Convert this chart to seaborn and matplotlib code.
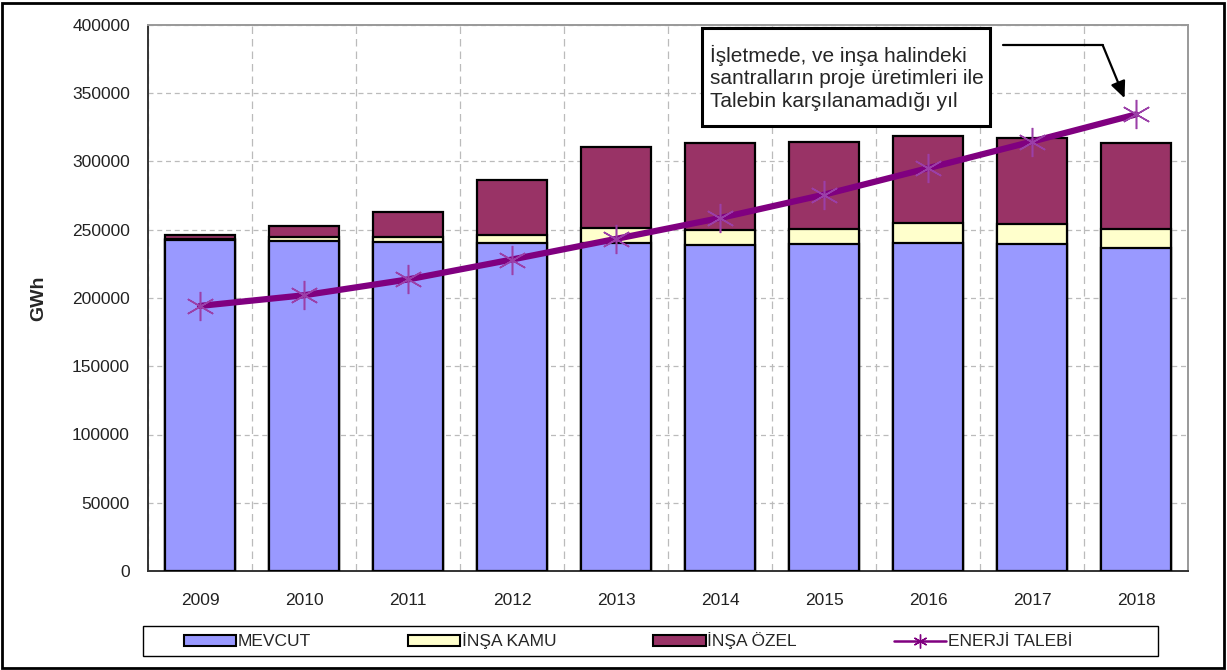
import numpy as np
import matplotlib
matplotlib.use("Agg")
import matplotlib.pyplot as plt
import matplotlib.patches as mpatches
from matplotlib.lines import Line2D
import seaborn as sns
import pandas as pd

YILLAR  = ["2009", "2010", "2011", "2012", "2013", "2014", "2015", "2016", "2017", "2018"]
MEVCUT  = [242500, 241600, 240900, 240400, 240500, 238700, 239600, 240400, 239900, 236700]
KAMU    = [800, 2900, 3600, 6100, 10800, 11400, 11000, 14600, 14400, 14200]
OZEL    = [2900, 8100, 18300, 39600, 59100, 63300, 63500, 64000, 63200, 63000]
TALEP   = [194200, 202000, 213600, 228200, 243300, 258600, 275700, 295100, 314600, 334500]
ETIKETLER = ["MEVCUT", "İNŞA KAMU", "İNŞA ÖZEL", "ENERJİ TALEBİ"]
NOT_METNI = "İşletmede, ve inşa halindeki\nsantralların proje üretimleri ile\nTalebin karşılanamadığı yıl"

C_MEVCUT, C_KAMU, C_OZEL, C_TALEP = "#9999FF", "#FFFFCC", "#993366", "#800080"

df = pd.DataFrame({"yil": YILLAR, "mevcut": MEVCUT, "kamu": KAMU, "ozel": OZEL, "talep": TALEP})
df["ust_kamu"] = df["mevcut"] + df["kamu"]
df["ust_ozel"] = df["ust_kamu"] + df["ozel"]

sns.set_style("white")
plt.rcParams["font.family"] = ["Liberation Sans", "DejaVu Sans"]

fig = plt.figure(figsize=(12.27, 6.70), dpi=100)
ax = fig.add_axes([148 / 1227, 99 / 670, 1040 / 1227, 546 / 670])

# yigilmis cubuklar: en buyukten kucuge ust uste
bar_kw = dict(width=0.68, edgecolor="black", linewidth=1.6, ax=ax, zorder=3)
sns.barplot(data=df, x="yil", y="ust_ozel", color=C_OZEL, saturation=1, **bar_kw)
sns.barplot(data=df, x="yil", y="ust_kamu", color=C_KAMU, saturation=1, **bar_kw)
sns.barplot(data=df, x="yil", y="mevcut", color=C_MEVCUT, saturation=1, **bar_kw)

# talep cizgisi
sns.pointplot(data=df, x="yil", y="talep", color=C_TALEP, marker="", linewidth=4.5,
              ax=ax, zorder=5)
ax.plot(np.arange(len(YILLAR)), df["talep"], linestyle="none", marker=(6, 2, 0),
        markersize=21, markeredgewidth=1.1, color="#9B3FA8", zorder=6)

ax.set_ylim(0, 400000)
ax.set_xlim(-0.5, len(YILLAR) - 0.5)
ax.set_yticks(np.arange(0, 400001, 50000))
ax.set_xticks(np.arange(len(YILLAR)))
ax.set_xticklabels(YILLAR)
ax.set_xticks(np.arange(len(YILLAR) + 1) - 0.5, minor=True)
ax.tick_params(axis="x", which="major", length=0, pad=16, labelsize=12.5, colors="#222222")
ax.tick_params(axis="x", which="minor", length=6, direction="out", color="#333333", width=1.2)
ax.tick_params(axis="y", length=6, direction="out", labelsize=12.5, colors="#222222", width=1.2, pad=7)
ax.set_xlabel("")
ax.set_ylabel("GWh", fontsize=14, fontweight="bold", labelpad=18)
ax.grid(True, axis="y", linestyle=(0, (4, 3)), color="#BBBBBB", linewidth=0.9, zorder=0)
ax.grid(True, axis="x", which="minor", linestyle=(0, (6, 4)), color="#BBBBBB", linewidth=0.9, zorder=0)
ax.set_axisbelow(True)
for s in ["left", "bottom"]:
    ax.spines[s].set_color("#333333")
    ax.spines[s].set_linewidth(1.4)
for s in ["top", "right"]:
    ax.spines[s].set_color("#999999")
    ax.spines[s].set_linewidth(1.4)

# aciklama kutusu ve ok
ax.add_patch(mpatches.Rectangle((0.533, 0.815), 0.277, 0.18, transform=ax.transAxes,
                                facecolor="white", edgecolor="black", linewidth=2.2,
                                zorder=7, clip_on=False))
ax.text(0.540, 0.903, NOT_METNI, transform=ax.transAxes, ha="left", va="center",
        fontsize=15, linespacing=1.22, zorder=8)
ax.plot([0.822, 0.918], [0.963, 0.963], transform=ax.transAxes, color="black", lw=1.6, zorder=7)
ax.annotate("", xy=(0.939, 0.866), xytext=(0.918, 0.963), xycoords="axes fraction",
            arrowprops=dict(arrowstyle="-|>,head_width=0.45,head_length=1.0", color="black",
                            lw=1.6, shrinkA=0, shrinkB=0), zorder=7)

# lejant: cerceve ayri, girdiler ortada
fig.add_artist(mpatches.Rectangle((143 / 1227, 14 / 670), 1015 / 1227, 30 / 670,
                                  transform=fig.transFigure, facecolor="white",
                                  edgecolor="black", linewidth=1.0))
tutucular = [
    mpatches.Patch(facecolor=C_MEVCUT, edgecolor="black", linewidth=1.5),
    mpatches.Patch(facecolor=C_KAMU, edgecolor="black", linewidth=1.5),
    mpatches.Patch(facecolor=C_OZEL, edgecolor="black", linewidth=1.5),
    Line2D([], [], color=C_TALEP, lw=1.8, marker=(6, 2, 0), markersize=10, markeredgewidth=1.0),
]
fig.legend(tutucular, ETIKETLER, ncol=4, loc="center",
           bbox_to_anchor=(628 / 1227, 29 / 670),
           fontsize=12.5, frameon=False, handlelength=3.0,
           handleheight=0.6, handletextpad=0.1, columnspacing=5.6)

# dis cerceve
fig.add_artist(mpatches.Rectangle((2 / 1227, 2 / 670), 1222 / 1227, 665 / 670,
                                  transform=fig.transFigure, fill=False,
                                  edgecolor="black", linewidth=2.0))

plt.savefig("out.png", dpi=100)
plt.close()
